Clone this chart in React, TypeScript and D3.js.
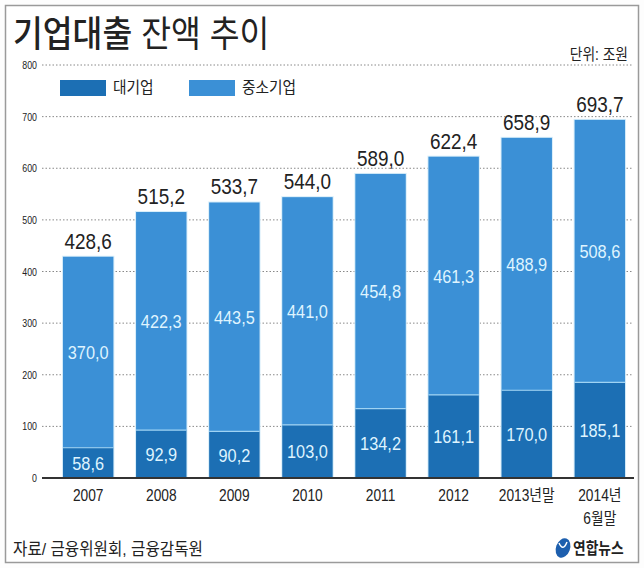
import { useEffect } from 'react'
import type { ReactNode } from 'react'
import * as d3 from 'd3'

const categories = ['2007', '2008', '2009', '2010', '2011', '2012', '2013년말', '2014년\n6월말']
const large = [58.6, 92.9, 90.2, 103.0, 134.2, 161.1, 170.0, 185.1]
const sme = [370.0, 422.3, 443.5, 441.0, 454.8, 461.3, 488.9, 508.6]
const totals = [428.6, 515.2, 533.7, 544.0, 589.0, 622.4, 658.9, 693.7]
const yTicks = [0, 100, 200, 300, 400, 500, 600, 700, 800]

const W = 644
const H = 568
const DARK = '#1c6fb4'
const LIGHT = '#3b90d6'
const FONT = '"Liberation Sans", "Noto Sans CJK KR", sans-serif'

const fmt = (v: number) => v.toFixed(1).replace('.', ',')

// narrow text: squeeze horizontally around the anchor point
function NText({
  x,
  y,
  size,
  fill = '#222',
  anchor = 'start',
  sx = 0.86,
  weight = 400,
  children,
}: {
  x: number
  y: number
  size: number
  fill?: string
  anchor?: 'start' | 'middle' | 'end'
  sx?: number
  weight?: number
  children: ReactNode
}) {
  return (
    <text
      transform={`translate(${x},${y}) scale(${sx},1)`}
      fontSize={size}
      fill={fill}
      textAnchor={anchor}
      fontWeight={weight}
    >
      {children}
    </text>
  )
}

export default function App() {
  useEffect(() => {
    document.body.style.margin = '0'
  }, [])

  const x = d3.scaleBand().domain(categories).range([52, 636]).paddingInner(0.31).paddingOuter(0.15)
  const y = d3.scaleLinear().domain([0, 800]).range([478, 65])
  const bw = x.bandwidth()

  return (
    <svg width={W} height={H} style={{ display: 'block', fontFamily: FONT }}>
      <rect x={0} y={0} width={W} height={H} fill="#fdfdfd" />
      <rect x={5.5} y={5.5} width={633} height={557} fill="#ffffff" stroke="#9a9a9a" strokeWidth={1.5} />

      <NText x={13} y={47} size={36} sx={0.9}>
        <tspan fontWeight={500}>기업대출</tspan> 잔액 추이
      </NText>
      <NText x={628} y={60} size={16} anchor="end">단위: 조원</NText>

      {yTicks.map((t) => (
        <g key={t}>
          {t > 0 && (
            <line x1={42} x2={632} y1={y(t)} y2={y(t)} stroke="#888" strokeWidth={1} strokeDasharray="1.5 2" />
          )}
          <NText x={37} y={y(t) + 4} size={11} anchor="end" sx={0.8}>
            {t}
          </NText>
        </g>
      ))}

      <rect x={60} y={80} width={46} height={16} fill={DARK} />
      <NText x={113} y={93} size={16} sx={0.92}>대기업</NText>
      <rect x={189} y={80} width={46} height={16} fill={LIGHT} />
      <NText x={242} y={93} size={16} sx={0.92}>중소기업</NText>

      {categories.map((c, i) => {
        const bx = x(c) || 0
        const cx = bx + bw / 2
        return (
          <g key={c}>
            <rect x={bx - 1} y={y(totals[i]) - 1} width={bw + 2} height={y(0) - y(totals[i]) + 1} fill="#d8eefa" />
            <rect x={bx} y={y(large[i] + sme[i])} width={bw} height={y(large[i]) - y(large[i] + sme[i])} fill={LIGHT} />
            <rect x={bx} y={y(large[i])} width={bw} height={y(0) - y(large[i])} fill={DARK} />
            <line x1={bx} x2={bx + bw} y1={y(large[i])} y2={y(large[i])} stroke="#9fd3f3" strokeWidth={1.2} />
            <NText x={cx} y={y(totals[i]) - 8} size={22} anchor="middle">
              {fmt(totals[i])}
            </NText>
            <NText x={cx} y={y(large[i] + sme[i] / 2) + 7} size={19} fill="#dff4ff" anchor="middle">
              {fmt(sme[i])}
            </NText>
            <NText x={cx} y={y(large[i] / 2) + 7} size={19} fill="#dff4ff" anchor="middle">
              {fmt(large[i])}
            </NText>
            {c.split('\n').map((line, k) => (
              <NText key={k} x={cx} y={501 + k * 23} size={16} anchor="middle">
                {line}
              </NText>
            ))}
          </g>
        )
      })}

      <line x1={42} x2={634} y1={y(0)} y2={y(0)} stroke="#333" strokeWidth={2} />

      <NText x={13} y={555} size={17} sx={0.92}>자료/ 금융위원회, 금융감독원</NText>
      <g>
        <ellipse cx={563} cy={548} rx={7} ry={10} fill="#1d5fae" transform="rotate(20 563 548)" />
        <path d="M559 543 Q563 552 567 542" stroke="#fff" strokeWidth={1.5} fill="none" />
        <NText x={573} y={554} size={16} weight={700}>연합뉴스</NText>
      </g>
    </svg>
  )
}
